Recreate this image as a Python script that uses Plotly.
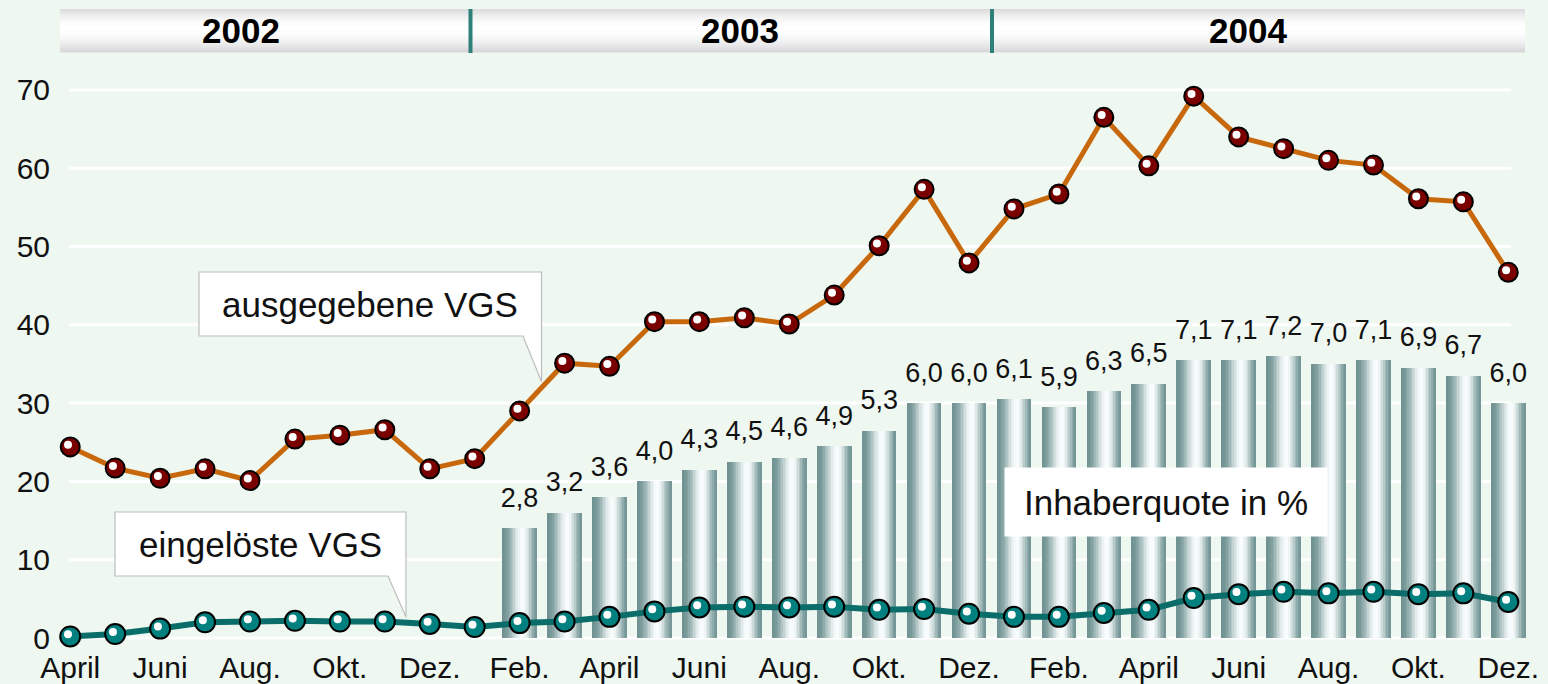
import math
import plotly.graph_objects as go

# ---------------- data ----------------
months = ["April", "Mai", "Juni", "Juli", "Aug.", "Sept.", "Okt.", "Nov.", "Dez.",
          "Jan.", "Feb.", "März", "April", "Mai", "Juni", "Juli", "Aug.", "Sept.", "Okt.", "Nov.", "Dez.",
          "Jan.", "Feb.", "März", "April", "Mai", "Juni", "Juli", "Aug.", "Sept.", "Okt.", "Nov.", "Dez."]
years = [2002] * 9 + [2003] * 12 + [2004] * 12
categories = [f"{m} {y}" for m, y in zip(months, years)]

ausgegebene_vgs = [24.4, 21.7, 20.4, 21.6, 20.1, 25.4, 25.9, 26.6, 21.6,
                   22.9, 29.0, 35.1, 34.7, 40.4, 40.4, 40.9, 40.1, 43.8, 50.1, 57.3, 47.9,
                   54.8, 56.7, 66.5, 60.3, 69.2, 64.0, 62.5, 61.0, 60.4, 56.1, 55.7, 46.7]
eingeloeste_vgs = [0.2, 0.5, 1.2, 2.0, 2.1, 2.2, 2.1, 2.1, 1.8,
                   1.4, 1.9, 2.1, 2.7, 3.4, 3.9, 4.0, 3.9, 4.0, 3.6, 3.7, 3.1,
                   2.7, 2.7, 3.2, 3.6, 5.1, 5.6, 5.9, 5.7, 5.9, 5.6, 5.7, 4.6]
quote_categories = categories[10:]  # Feb. 2003 - Dez. 2004
inhaberquote = [2.8, 3.2, 3.6, 4.0, 4.3, 4.5, 4.6, 4.9, 5.3, 6.0, 6.0,
                6.1, 5.9, 6.3, 6.5, 7.1, 7.1, 7.2, 7.0, 7.1, 6.9, 6.7, 6.0]

tick_vals = categories[::2]
tick_text = months[::2]
y_ticks = [0, 10, 20, 30, 40, 50, 60, 70]
year_labels = ["2002", "2003", "2004"]

# ---------------- geometry / style ----------------
W, H = 1548, 684
ML, MR, MT, MB = 59, 20, 62, 37
PW, PH = W - ML - MR, H - MT - MB
STEP = 44.94            # px per category
YPX = 7.83              # px per y unit
x_range = [-0.25, -0.25 + PW / STEP]
y_range = [-9 / YPX, -9 / YPX + PH / YPX]
bar_range = [v / 5 for v in y_range]


def px(xp):
    return (xp - ML) / PW


def py(yp):
    return (H - MB - yp) / PH


BG = "#EEF7F0"
FONT = "Liberation Sans, Arial, Helvetica, sans-serif"

fig = go.Figure()

# ---- cylinder-like bars (stripes) on the base axis ----
N = 22
BW = 0.77
edge_l = (112, 146, 146)
edge_r = (116, 150, 150)
peak = (248, 252, 252)
tp = 0.58
for i in range(N):
    t = (i + 0.5) / N
    if t <= tp:
        f = math.sin(math.pi / 2 * t / tp) ** 2.2
        e = edge_l
    else:
        f = math.sin(math.pi / 2 * (1 - t) / (1 - tp)) ** 1.8
        e = edge_r
    c = tuple(round(e[k] + (peak[k] - e[k]) * f) for k in range(3))
    w = BW / N * (1.0 if i == N - 1 else 1.6)
    fig.add_trace(go.Bar(
        x=quote_categories, y=inhaberquote, yaxis="y",
        offset=-BW / 2 + i * BW / N, width=w,
        marker=dict(color=f"rgb{c}", line=dict(width=0)),
        showlegend=False, hoverinfo="skip"))

# bar value labels
fig.add_trace(go.Scatter(
    x=quote_categories, y=inhaberquote, yaxis="y", mode="markers+text",
    text=[f"{v:.1f}".replace(".", ",") for v in inhaberquote],
    textposition="top center", marker=dict(size=22, opacity=0),
    textfont=dict(family=FONT, size=27, color="#111111"),
    showlegend=False, hoverinfo="skip", cliponaxis=False))

# ---- lines on the overlaid (visible) axis ----
fig.add_trace(go.Scatter(
    x=categories, y=eingeloeste_vgs, yaxis="y2", mode="lines+markers",
    line=dict(color="#0B6D69", width=6),
    marker=dict(size=20, color="#00807E", line=dict(color="#000000", width=2)),
    showlegend=False, cliponaxis=False))
fig.add_trace(go.Scatter(
    x=categories, y=ausgegebene_vgs, yaxis="y2", mode="lines+markers",
    line=dict(color="#C8680C", width=5),
    marker=dict(size=19, color="#7A0000", line=dict(color="#000000", width=2)),
    showlegend=False, cliponaxis=False))

# highlights (on a slightly shifted overlay axis to look like a glossy ball)
dx = 2.2 / STEP
dy = 2.2 / YPX
for vals in (eingeloeste_vgs, ausgegebene_vgs):
    fig.add_trace(go.Scatter(
        x=categories, y=vals, xaxis="x3", yaxis="y3", mode="markers",
        marker=dict(size=8, color="#FFFFFF", line=dict(width=0)),
        showlegend=False, hoverinfo="skip", cliponaxis=False))

# ---------------- shapes ----------------
shapes = []
for v in y_ticks:
    shapes.append(dict(type="line", xref="paper", yref="y2",
                       x0=px(69), x1=px(1511), y0=v, y1=v,
                       line=dict(color="#FFFFFF", width=3), layer="below"))

band_top, band_bot = 9, 52
nstr = 22
for i in range(nstr):
    t = (i + 0.5) / nstr
    if t < 0.45:
        f = math.sin(math.pi / 2 * t / 0.45)
        c0 = (218, 218, 220)
    else:
        f = math.sin(math.pi / 2 * (1 - t) / 0.55)
        c0 = (214, 214, 218)
    c = tuple(round(c0[k] + (255 - c0[k]) * f) for k in range(3))
    y0 = band_top + i * (band_bot - band_top) / nstr
    y1 = band_top + (i + 1) * (band_bot - band_top) / nstr + 0.6
    shapes.append(dict(type="rect", xref="paper", yref="paper",
                       x0=px(60), x1=px(1525), y0=py(y1), y1=py(y0),
                       fillcolor=f"rgb{c}", line=dict(width=0), layer="above"))
for xs in (470.5, 992):
    shapes.append(dict(type="line", xref="paper", yref="paper",
                       x0=px(xs), x1=px(xs), y0=py(53), y1=py(9),
                       line=dict(color="#2E8078", width=4), layer="above"))


def callout(pts):
    d = "M " + " L ".join(f"{px(a):.5f},{py(b):.5f}" for a, b in pts) + " Z"
    return dict(type="path", xref="paper", yref="paper", path=d,
                fillcolor="#FFFFFF", line=dict(color="#BDBDBD", width=1.2),
                layer="above")


shapes.append(callout([(199, 272), (541.5, 272), (541.5, 381.5), (523, 336), (199, 336)]))
shapes.append(callout([(115, 512), (406, 512), (406, 617), (388, 576), (115, 576)]))

# ---------------- annotations ----------------
annotations = []
for lab, xc in zip(year_labels, (241, 740, 1248)):
    annotations.append(dict(text=f"<b>{lab}</b>", xref="paper", yref="paper",
                            x=px(xc), y=py(31), showarrow=False,
                            font=dict(family=FONT, size=35, color="#000000"),
                            xanchor="center", yanchor="middle"))
annotations.append(dict(text="ausgegebene VGS", xref="paper", yref="paper",
                        x=px(370), y=py(304), showarrow=False,
                        font=dict(family=FONT, size=35, color="#111111"),
                        xanchor="center", yanchor="middle"))
annotations.append(dict(text="eingelöste VGS", xref="paper", yref="paper",
                        x=px(260.5), y=py(544), showarrow=False,
                        font=dict(family=FONT, size=35, color="#111111"),
                        xanchor="center", yanchor="middle"))
annotations.append(dict(text="Inhaberquote in %", xref="paper", yref="paper",
                        x=px(1166), y=py(502), showarrow=False,
                        font=dict(family=FONT, size=35, color="#111111"),
                        bgcolor="#FFFFFF", borderpad=0, width=322, height=68,
                        xanchor="center", yanchor="middle"))

fig.update_layout(
    width=W, height=H,
    margin=dict(l=ML, r=MR, t=MT, b=MB, pad=0, autoexpand=False),
    paper_bgcolor=BG, plot_bgcolor=BG,
    barmode="overlay", bargap=0,
    showlegend=False,
    font=dict(family=FONT, color="#111111"),
    xaxis=dict(type="category", categoryorder="array", categoryarray=categories,
               range=x_range, tickmode="array", tickvals=tick_vals, ticktext=tick_text,
               showgrid=False, zeroline=False, showline=False, ticks="",
               tickfont=dict(family=FONT, size=30, color="#111111"),
               ticklabelstandoff=0, automargin=False),
    yaxis=dict(range=bar_range, visible=False, automargin=False),
    yaxis2=dict(range=y_range, overlaying="y", side="left",
                tickmode="array", tickvals=y_ticks,
                showgrid=False, zeroline=False, showline=False, ticks="",
                tickfont=dict(family=FONT, size=30, color="#111111"),
                ticklabelstandoff=8, automargin=False),
    xaxis3=dict(type="category", categoryorder="array", categoryarray=categories,
                range=[x_range[0] + dx, x_range[1] + dx], overlaying="x", visible=False),
    yaxis3=dict(range=[y_range[0] - dy, y_range[1] - dy], overlaying="y", visible=False),
    shapes=shapes,
    annotations=annotations,
)

fig.write_html(
    "out.html",
    config={"displayModeBar": False},
    post_script="document.body.style.margin='0';document.body.style.background='" + BG + "';",
)
